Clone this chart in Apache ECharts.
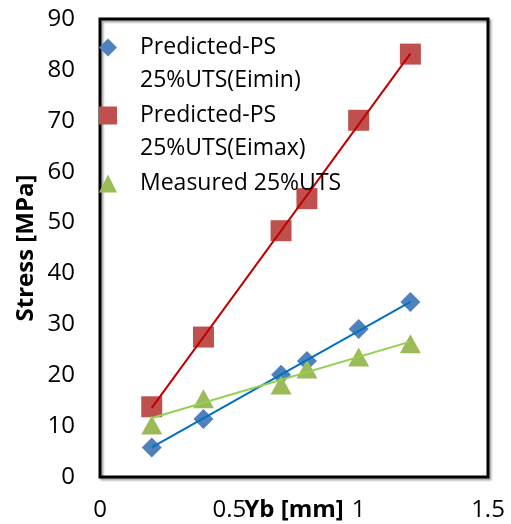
<!DOCTYPE html>
<html>
<head>
<meta charset="utf-8">
<script src="https://cdn.jsdelivr.net/npm/echarts@6/dist/echarts.min.js"></script>
<style>
  html, body { margin: 0; padding: 0; background: #fff; }
  #container1 { width: 511px; height: 524px; }
</style>
</head>
<body>
<div id="container1"></div>
<script>
// values
var yb = [0.2, 0.4, 0.7, 0.8, 1.0, 1.2];
var eiMin = [5.8, 11.4, 20.1, 22.8, 29.1, 34.4];
var eiMax = [13.8, 27.5, 48.4, 54.7, 70.1, 83.1];
var measured = [10.2, 15.4, 18.1, 21.2, 23.6, 26.2];
// trendline end points (x from, x to) and their stresses
var trendX = [0.2, 1.2];
var trendMin = [5.8, 34.4];
var trendMax = [13.6, 83.2];
var trendMeas = [11.6, 26.6];
var xTicks = [0, 0.5, 1, 1.5];
var yTicks = [0, 10, 20, 30, 40, 50, 60, 70, 80, 90];
var names = ['Predicted-PS 25%UTS(Eimin)', 'Predicted-PS 25%UTS(Eimax)', 'Measured 25%UTS'];

function pairs(xs, ys) {
  return xs.map(function (x, i) { return [x, ys[i]]; });
}

var font = 'Open Sans';
var dom = document.getElementById("container1");
var myChart = echarts.init(dom);
var option = null;
option = {
  animation: false,
  backgroundColor: '#fff',
  grid: {
    left: 100,
    top: 19,
    right: 23,
    bottom: 47,
    outerBoundsMode: 'none',
    show: true,
    borderColor: '#000',
    borderWidth: 3,
    shadowColor: 'rgba(0,0,0,0.35)',
    shadowOffsetX: 2,
    shadowOffsetY: 2,
    shadowBlur: 2
  },
  legend: {
    orient: 'vertical',
    left: 99,
    top: -2,
    padding: 0,
    itemGap: -31,
    itemWidth: 18,
    itemHeight: 18,
    align: 'left',
    // blank line on top so the icon sits next to the first line
    formatter: function (n) {
      return n.indexOf('PS 25') >= 0 ? '\n' + n.replace('PS 25', 'PS\n25') : '\n' + n + '\n ';
    },
    textStyle: { fontFamily: font, fontSize: 23, color: '#000', lineHeight: 33, padding: [0, 0, 0, 18] },
    data: names
  },
  xAxis: {
    type: 'value',
    min: xTicks[0],
    max: xTicks[xTicks.length - 1],
    interval: xTicks[1] - xTicks[0],
    name: 'Yb [mm]',
    nameLocation: 'middle',
    nameGap: 21,
    nameMoveOverlap: false,
    nameTextStyle: { fontFamily: font, fontSize: 24, fontWeight: 'bold', color: '#000' },
    axisLine: { show: false },
    axisTick: { show: false },
    splitLine: { show: false },
    axisLabel: { fontFamily: font, fontSize: 24, color: '#000', margin: 21 }
  },
  yAxis: {
    type: 'value',
    min: yTicks[0],
    max: yTicks[yTicks.length - 1],
    interval: yTicks[1] - yTicks[0],
    name: 'Stress [MPa]',
    nameLocation: 'middle',
    nameGap: 62,
    nameMoveOverlap: false,
    nameTextStyle: { fontFamily: font, fontSize: 24, fontWeight: 'bold', color: '#000' },
    axisLine: { show: false },
    axisTick: { show: false },
    splitLine: { show: false },
    axisLabel: { fontFamily: font, fontSize: 24, color: '#000', margin: 25 }
  },
  series: [
    {
      name: names[0], type: 'scatter', symbol: 'diamond', symbolSize: 20,
      itemStyle: { color: '#4f81bd', opacity: 1 }, data: pairs(yb, eiMin), z: 2
    },
    {
      name: names[1], type: 'scatter', symbol: 'rect', symbolSize: 21,
      itemStyle: { color: '#c0504d', opacity: 1 }, data: pairs(yb, eiMax), z: 2
    },
    {
      name: names[2], type: 'scatter', symbol: 'triangle', symbolSize: [21, 19],
      itemStyle: { color: '#9bbb59', opacity: 1 }, data: pairs(yb, measured), z: 2
    },
    {
      name: 'trend min', type: 'line', showSymbol: false, z: 3,
      lineStyle: { color: '#0070c0', width: 2 }, data: pairs(trendX, trendMin)
    },
    {
      name: 'trend max', type: 'line', showSymbol: false, z: 3,
      lineStyle: { color: '#c00000', width: 2 }, data: pairs(trendX, trendMax)
    },
    {
      name: 'trend measured', type: 'line', showSymbol: false, z: 3,
      lineStyle: { color: '#92d050', width: 2 }, data: pairs(trendX, trendMeas)
    }
  ]
};
if (option && typeof option === "object") {
  myChart.setOption(option, true);
}
window.addEventListener("resize", () => {
  myChart.resize();
});
</script>
</body>
</html>
